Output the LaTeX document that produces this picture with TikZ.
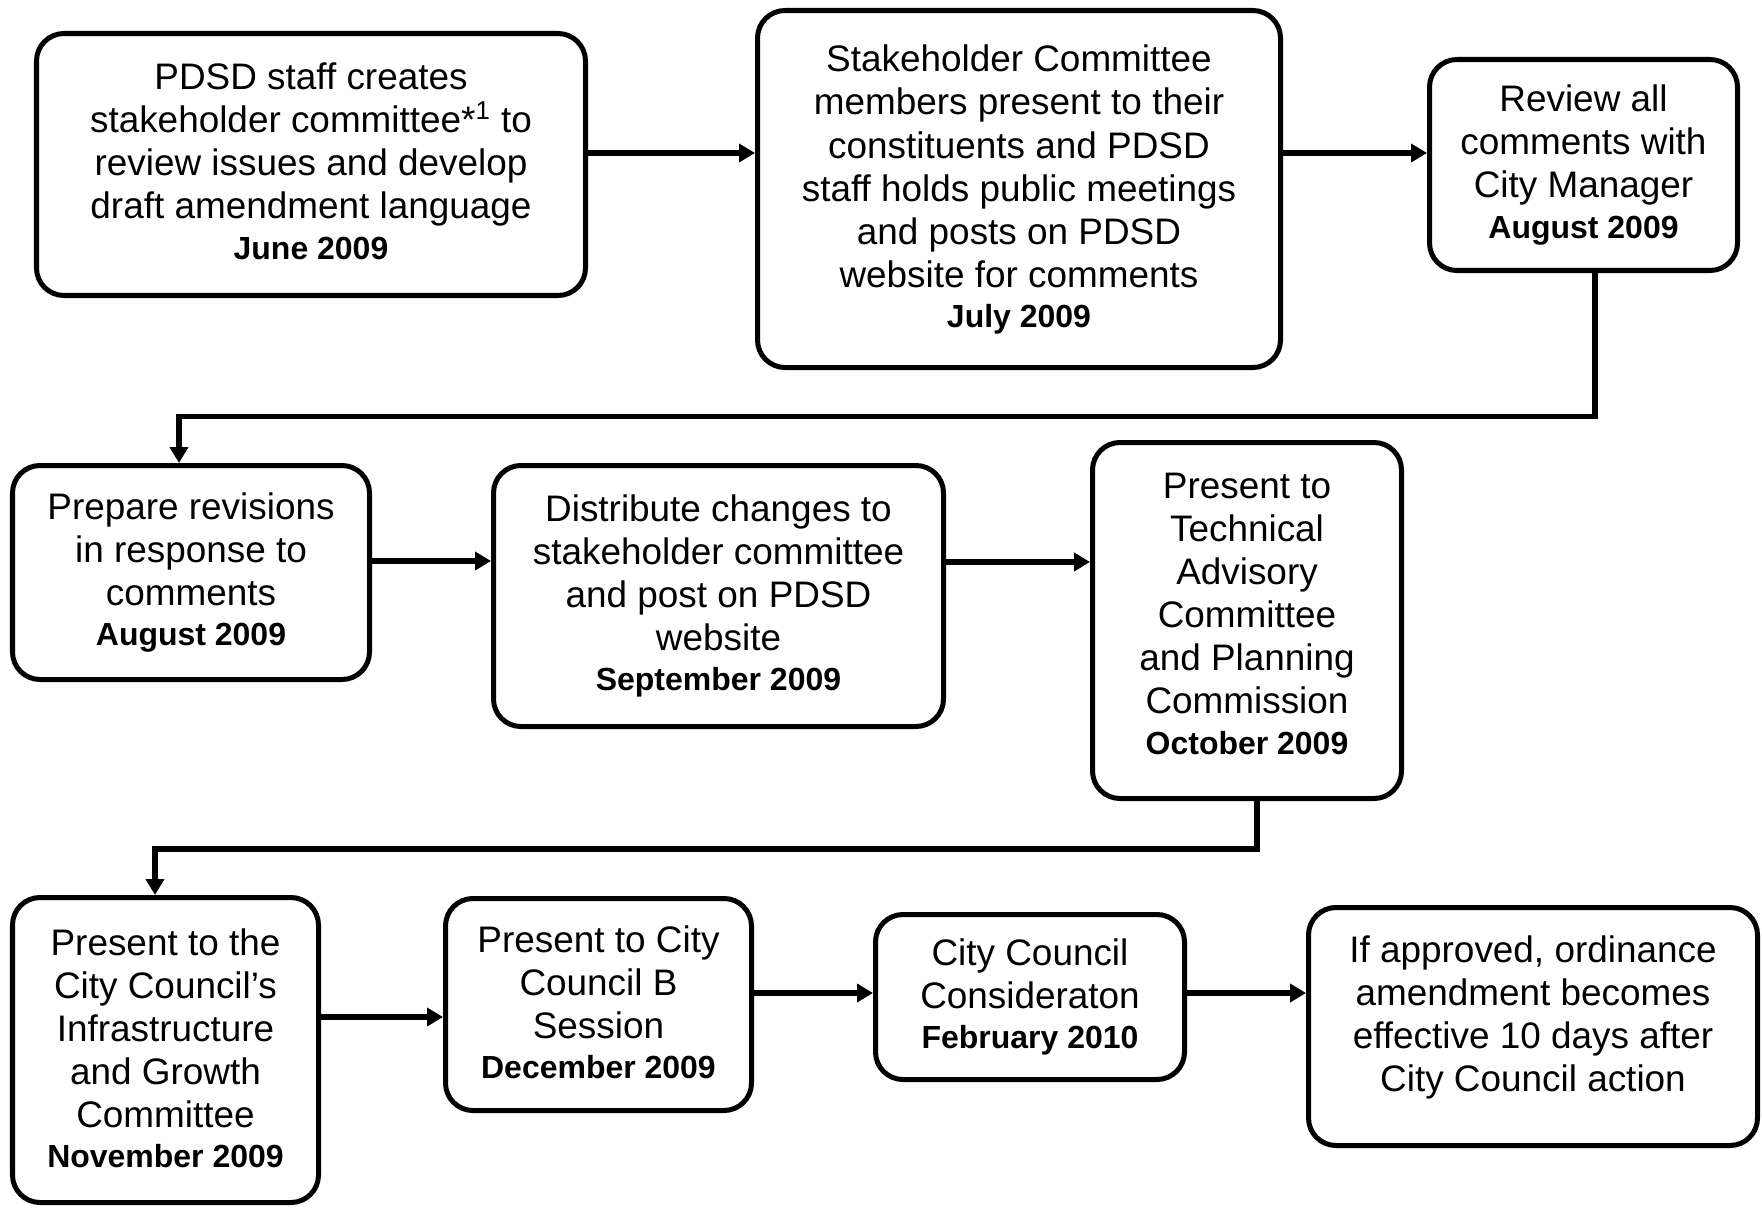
\documentclass[tikz,border=0pt]{standalone}
\usepackage{fontspec}
\setmainfont{Liberation Sans}
\usetikzlibrary{arrows.meta,positioning}
\newcommand{\when}[1]{\\[-1.5pt]{\fontsize{18.2}{21}\selectfont\bfseries #1}}

\begin{document}
\begin{tikzpicture}[>={Triangle[length=0.32cm,width=0.36cm]},node distance=2cm,on grid,
   stage/.style={draw,line width=2.85pt,rounded corners=0.55cm,align=center,inner sep=0pt,
                 font=\fontsize{21}{24.5}\selectfont},
   flow/.style={->,line width=3.4pt}]
   \useasboundingbox (0,0) rectangle (35.24,-24.16);
   % first row
   \node[stage,minimum width=10.98cm,minimum height=5.24cm,text depth=4pt] (s_1) at (6.22,-3.29)
      {PDSD staff creates\\stakeholder committee*\textsuperscript{1} to\\review issues and develop\\draft amendment language\when{June 2009}};
   \node[stage,minimum width=10.46cm,minimum height=7.14cm,text depth=3pt] (s_2) [below right=0.49cm and 14.16cm of s_1]
      {Stakeholder Committee\\members present to their\\constituents and PDSD\\staff holds public meetings\\and posts on PDSD\\website for comments\when{July 2009}};
   \node[stage,minimum width=6.16cm,minimum height=4.22cm] (s_3) [above right=0.48cm and 11.29cm of s_2]
      {Review all\\comments with\\City Manager\when{August 2009}};
   % second row
   \node[stage,minimum width=7.14cm,minimum height=4.28cm] (s_4) [below left=8.16cm and 2.4cm of s_1]
      {Prepare revisions\\in response to\\comments\when{August 2009}};
   \node[stage,minimum width=9cm,minimum height=5.22cm] (s_5) [below right=0.47cm and 10.55cm of s_4]
      {Distribute changes to\\stakeholder committee\\and post on PDSD\\website\when{September 2009}};
   \node[stage,minimum width=6.18cm,minimum height=7.12cm,text depth=8pt] (s_6) [below right=0.49cm and 10.57cm of s_5]
      {Present to\\Technical\\Advisory\\Committee\\and Planning\\Commission\when{October 2009}};
   % third row
   \node[stage,minimum width=6.12cm,minimum height=6.1cm,text depth=2pt] (s_7) [below left=9.55cm and 0.51cm of s_4]
      {Present to the\\City Council’s\\Infrastructure\\and Growth\\Committee\when{November 2009}};
   \node[stage,minimum width=6.12cm,minimum height=4.24cm,text depth=2.5pt] (s_8) [above right=0.91cm and 8.66cm of s_7]
      {Present to City\\Council B\\Session\when{December 2009}};
   \node[stage,minimum width=6.18cm,minimum height=3.3cm] (s_9) [above right=0.15cm and 8.63cm of s_8]
      {City Council\\Consideraton\when{February 2010}};
   \node[stage,minimum width=8.98cm,minimum height=4.76cm,text depth=15pt] (s_10) [below right=0.59cm and 10.06cm of s_9]
      {If approved, ordinance\\amendment becomes\\effective 10 days after\\City Council action};

   \draw[flow] ([yshift=0.23cm]s_1.east) -- ([yshift=0.23cm]s_1.east -| s_2.west);
   \draw[flow] ([yshift=0.24cm]s_3.west -| s_2.east) -- ([yshift=0.24cm]s_3.west);
   \draw[flow] ([xshift=0.23cm]s_3.south) -- ++(0,-2.87) -| ([xshift=-0.24cm]s_4.north);
   \draw[flow] ([yshift=0.23cm]s_4.east) -- ([yshift=0.23cm]s_4.east -| s_5.west);
   \draw[flow] ([yshift=0.68cm]s_5.east) -- ([yshift=0.68cm]s_5.east -| s_6.west);
   \draw[flow] ([xshift=0.2cm]s_6.south) -- ++(0,-0.95) -| ([xshift=-0.21cm]s_7.north);
   \draw[flow] ([yshift=-0.25cm]s_8.west -| s_7.east) -- ([yshift=-0.25cm]s_8.west);
   \draw[flow] ([yshift=0.23cm]s_8.east) -- ([yshift=0.23cm]s_8.east -| s_9.west);
   \draw[flow] ([yshift=0.08cm]s_9.east) -- ([yshift=0.08cm]s_9.east -| s_10.west);
\end{tikzpicture}
\end{document}
